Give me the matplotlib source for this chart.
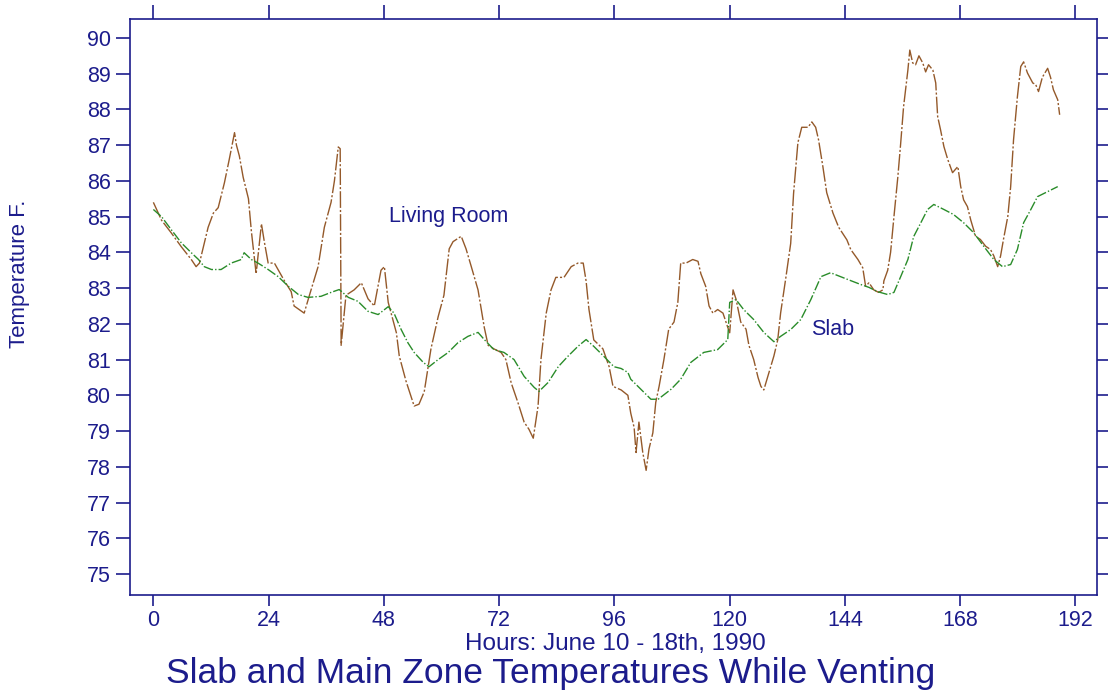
import numpy as np
import matplotlib.pyplot as plt

# living room (main zone) temperature, deg F
room_hours = [0, 1.7, 3.7, 5.8, 7.9, 8.9, 9.6, 11.4, 12.5, 13.5, 14.8, 15.8, 16.9, 17.3, 17.9,
              18.7, 19.8, 20.4, 21.4, 22.5, 23.1, 23.9, 25.2, 27.3, 28.7, 29.3, 31.4, 32.5,
              34.3, 35.6, 37.0, 37.7, 38.5, 38.9, 39.1, 40.1, 41.8, 43.3, 44.7, 46.0, 47.4,
              48.1, 48.9, 50.6, 51.2, 52.6, 54.3, 55.3, 56.4, 57.8, 59.3, 60.5, 61.6, 62.4,
              64.1, 65.1, 66.2, 67.6, 68.9, 69.7, 70.9, 72.4, 73.4, 74.5, 75.9, 77.2, 78.2,
              79.1, 80.1, 80.7, 81.8, 82.8, 83.8, 85.5, 87.0, 88.4, 89.5, 90.1, 90.7, 91.7,
              93.6, 94.9, 95.7, 97.4, 98.8, 99.4, 100.1, 100.5, 101.1, 101.9, 102.6, 103.2,
              104.0, 104.6, 105.3, 106.3, 107.3, 108.4, 109.2, 109.8, 110.9, 112.3, 113.4,
              114.0, 115.0, 115.7, 116.5, 117.5, 118.6, 119.6, 120.0, 120.7, 121.3, 122.3,
              123.4, 124.0, 125.0, 125.9, 126.5, 127.1, 128.1, 129.2, 130.0, 130.6, 131.7,
              132.7, 133.3, 134.2, 135.0, 136.3, 137.1, 137.9, 138.5, 139.4, 140.2, 141.5,
              142.7, 144.4, 145.2, 146.7, 147.7, 148.3, 149.0, 150.0, 151.0, 151.9, 152.1,
              152.9, 153.5, 154.2, 155.0, 155.6, 156.2, 157.1, 157.5, 158.1, 158.7, 159.4,
              160.2, 160.8, 161.4, 162.3, 162.9, 163.3, 163.9, 164.6, 165.4, 166.4, 167.5,
              168.1, 168.7, 169.5, 170.2, 171.2, 172.2, 173.3, 174.3, 175.0, 175.8, 176.4,
              177.0, 177.9, 178.5, 179.1, 179.9, 180.6, 181.2, 182.0, 183.1, 183.7, 184.3,
              185.1, 186.2, 186.8, 187.4, 188.3, 188.7]
room_temp = [85.4, 84.9, 84.55, 84.16, 83.8, 83.6, 83.7, 84.7, 85.1, 85.25, 85.95, 86.6, 87.35,
             87.0, 86.7, 86.1, 85.5, 84.6, 83.4, 84.8, 84.3, 83.7, 83.7, 83.2, 82.9, 82.5,
             82.3, 82.8, 83.6, 84.7, 85.4, 86.0, 86.95, 86.9, 81.4, 82.8, 82.95, 83.15, 82.7,
             82.5, 83.5, 83.6, 82.6, 81.75, 81.1, 80.4, 79.7, 79.75, 80.1, 81.3, 82.2, 82.8,
             84.1, 84.3, 84.45, 84.1, 83.6, 82.95, 81.9, 81.4, 81.3, 81.2, 81.0, 80.35, 79.8,
             79.25, 79.05, 78.8, 79.7, 81.0, 82.3, 82.95, 83.3, 83.3, 83.6, 83.7, 83.7, 83.2,
             82.4, 81.55, 81.3, 80.8, 80.25, 80.15, 80.0, 79.5, 79.1, 78.4, 79.25, 78.4, 77.9,
             78.5, 78.95, 79.8, 80.25, 81.0, 81.85, 82.05, 82.6, 83.7, 83.7, 83.8, 83.75,
             83.4, 83.05, 82.5, 82.3, 82.4, 82.3, 81.9, 81.75, 82.95, 82.7, 82.05, 81.85,
             81.4, 81.0, 80.5, 80.25, 80.15, 80.6, 81.1, 81.55, 82.3, 83.3, 84.25, 85.65,
             87.07, 87.5, 87.5, 87.65, 87.5, 87.15, 86.4, 85.67, 85.1, 84.7, 84.35, 84.08,
             83.8, 83.57, 83.05, 83.15, 82.95, 82.88, 82.95, 83.2, 83.5, 84.0, 85.0, 86.1,
             87.05, 88.07, 89.1, 89.66, 89.3, 89.25, 89.5, 89.3, 89.05, 89.25, 89.1, 88.74,
             87.8, 87.43, 86.96, 86.6, 86.23, 86.4, 85.84, 85.47, 85.28, 84.9, 84.45, 84.36,
             84.17, 84.08, 83.9, 83.6, 83.9, 84.36, 85.0, 85.84, 87.15, 88.35, 89.2, 89.33,
             89.02, 88.74, 88.7, 88.5, 88.9, 89.15, 88.9, 88.55, 88.27, 87.85]

# slab temperature, deg F
slab_hours = [0, 1.7, 3.7, 5.8, 7.9, 9.4, 10.6, 12.1, 14.1, 16.2, 18.3, 18.9, 20.4, 21.8, 23.9,
              26.0, 28.1, 30.2, 32.2, 34.9, 37.0, 38.7, 40.6, 42.6, 44.7, 46.8, 48.9, 50.1,
              51.6, 53.0, 54.3, 56.2, 57.4, 59.3, 61.4, 63.4, 65.5, 67.6, 68.9, 70.9, 73.0,
              75.1, 77.2, 79.3, 80.3, 82.2, 84.3, 86.3, 88.4, 90.1, 91.7, 93.8, 95.9, 97.4,
              98.8, 99.4, 101.5, 103.6, 105.1, 107.8, 109.8, 111.9, 114.6, 117.5, 119.6,
              120.0, 121.3, 122.9, 125.0, 127.1, 129.2, 130.6, 132.7, 134.8, 136.9, 139.0,
              141.0, 144.6, 147.3, 149.0, 150.8, 152.9, 154.2, 155.6, 157.1, 158.3, 159.8,
              161.2, 162.5, 164.6, 166.6, 168.7, 170.8, 172.9, 175.0, 176.8, 178.5, 179.9,
              181.2, 182.7, 184.1, 186.2, 188.3]
slab_temp = [85.2, 85.0, 84.64, 84.27, 83.99, 83.8, 83.6, 83.52, 83.52, 83.7, 83.8, 83.99, 83.8,
             83.7, 83.52, 83.32, 83.05, 82.82, 82.74, 82.77, 82.88, 82.96, 82.74, 82.63,
             82.35, 82.26, 82.48, 82.3, 81.84, 81.47, 81.2, 80.92, 80.8, 81.0, 81.2, 81.47,
             81.65, 81.76, 81.56, 81.28, 81.2, 81.0, 80.53, 80.22, 80.11, 80.36, 80.8, 81.09,
             81.37, 81.56, 81.37, 81.09, 80.8, 80.75, 80.64, 80.45, 80.17, 79.89, 79.89,
             80.17, 80.45, 80.92, 81.2, 81.28, 81.56, 82.6, 82.68, 82.4, 82.12, 81.76, 81.5,
             81.65, 81.84, 82.12, 82.68, 83.32, 83.43, 83.24, 83.1, 83.02, 82.9, 82.82,
             82.88, 83.32, 83.8, 84.44, 84.83, 85.2, 85.34, 85.2, 85.06, 84.83, 84.55, 84.17,
             83.8, 83.6, 83.66, 84.08, 84.83, 85.2, 85.56, 85.7, 85.84]

x_ticks = [0, 24, 48, 72, 96, 120, 144, 168, 192]
y_ticks = list(range(75, 91))

navy = '#1c1c8c'
plt.rcParams['font.family'] = ['Liberation Sans', 'DejaVu Sans']

fig = plt.figure(figsize=(11.08, 6.96), dpi=100)
ax = fig.add_axes([0.1173, 0.145, 0.990 - 0.1173, 0.9727 - 0.145])

ax.plot(room_hours, room_temp, color='#94592a', linewidth=1.0, dashes=(12, 1.5, 1.5, 1.5))
ax.plot(slab_hours, slab_temp, color='#2a8c2a', linewidth=1.0, dashes=(7, 1.5, 1, 1.5))

ax.set_xlim(-4.87, 196.46)
ax.set_ylim(74.41, 90.53)
ax.set_xticks(x_ticks)
ax.set_yticks(y_ticks)

for side in ['left', 'right', 'top', 'bottom']:
    ax.spines[side].set_color(navy)
    ax.spines[side].set_linewidth(1.2)

ax.tick_params(axis='both', colors=navy, labelsize=15.5, width=1.2, direction='out')
ax.tick_params(axis='y', length=10, right=True, pad=4)
ax.tick_params(axis='x', length=8, pad=3, top=True)
# longer ticks on top
for t in ax.xaxis.get_major_ticks():
    t.tick2line.set_markersize(10)

fig.text(0.018, 0.607, 'Temperature F.', rotation=90, ha='center', va='center',
         fontsize=16, color=navy)
fig.text(0.555, 0.074, 'Hours: June 10 - 18th, 1990', ha='center', va='center',
         fontsize=17.5, color=navy)
fig.text(0.497, 0.033, 'Slab and Main Zone Temperatures While Venting', ha='center',
         va='center', fontsize=25.5, color=navy)

ax.text(49, 85.0, 'Living Room', fontsize=15.5, color=navy, va='center')
ax.text(137.0, 81.85, 'Slab', fontsize=15.5, color=navy, va='center')

fig.savefig('out.png', dpi=100)
